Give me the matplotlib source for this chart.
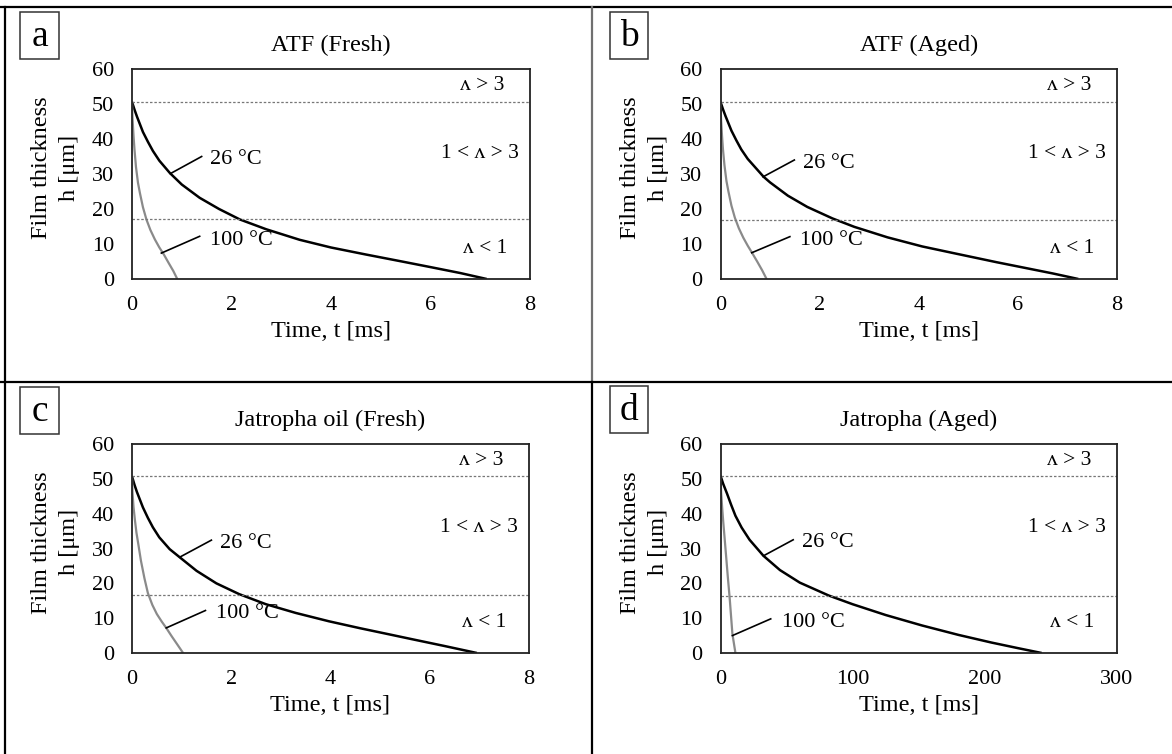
import matplotlib
matplotlib.use("Agg")
import matplotlib.pyplot as plt
from matplotlib.lines import Line2D
from matplotlib.patches import Rectangle

plt.rcParams["font.family"] = ["Liberation Serif", "DejaVu Serif"]

W, H = 1172, 754

# panel texts
letters = ["a", "b", "c", "d"]
titles = ["ATF (Fresh)", "ATF (Aged)", "Jatropha oil (Fresh)", "Jatropha (Aged)"]
x_max = [8, 8, 8, 300]
x_step = [2, 2, 2, 100]

# regime limits (film thickness, um)
upper_lim = [50.6, 50.6, 50.7, 50.9]
lower_lim = [17.1, 17.0, 16.7, 16.3]

# 26 C curves
t26_a = [0, 0.05, 0.1, 0.22, 0.32, 0.42, 0.55, 0.76, 1.0, 1.36, 1.75, 2.17, 2.7, 3.37, 4.0, 4.7, 5.39, 6.0, 6.6, 7.13]
h26_a = [50.6, 48.4, 46.4, 42.0, 39.2, 36.6, 33.8, 30.3, 27.0, 23.2, 20.0, 17.0, 14.2, 11.2, 9.0, 7.0, 5.1, 3.4, 1.7, 0]
t26_b = [0, 0.05, 0.1, 0.22, 0.32, 0.42, 0.55, 0.87, 1.0, 1.36, 1.75, 2.26, 2.7, 3.37, 4.07, 4.7, 5.57, 6.1, 6.7, 7.22]
h26_b = [50.6, 48.5, 46.6, 42.4, 39.6, 37.0, 34.3, 29.2, 27.6, 23.8, 20.6, 17.3, 14.9, 11.9, 9.3, 7.4, 4.8, 3.3, 1.6, 0]
t26_c = [0, 0.05, 0.1, 0.22, 0.32, 0.42, 0.55, 0.76, 0.96, 1.3, 1.7, 2.16, 2.7, 3.3, 3.97, 4.6, 5.2, 5.63, 6.3, 6.95]
h26_c = [50.7, 48.3, 46.2, 41.8, 38.8, 36.1, 33.2, 29.8, 27.5, 23.6, 20.0, 16.9, 14.0, 11.5, 9.1, 7.1, 5.3, 4.0, 2.0, 0]
t26_d = [0, 2, 5, 8, 11.3, 16, 22, 32.5, 45, 60, 81.9, 100, 125, 152.5, 180, 205, 225, 243]
h26_d = [50.9, 48.6, 45.7, 42.6, 39.4, 36.0, 32.5, 27.9, 23.8, 20.2, 16.5, 14.0, 10.9, 7.9, 5.2, 3.0, 1.4, 0]

# 100 C curves
t100_a = [0, 0.01, 0.03, 0.05, 0.08, 0.12, 0.16, 0.22, 0.29, 0.37, 0.46, 0.55, 0.64, 0.74, 0.83, 0.91]
h100_a = [50.6, 46, 41, 37, 32, 27.5, 24.5, 20.5, 17, 14, 11.3, 9, 7, 4.5, 2.3, 0]
t100_b = [0, 0.01, 0.03, 0.05, 0.08, 0.12, 0.16, 0.22, 0.29, 0.37, 0.46, 0.55, 0.64, 0.74, 0.84, 0.93]
h100_b = [50.6, 46, 41, 37, 32.5, 28, 25, 21, 17.5, 14.5, 11.8, 9.5, 7.4, 5.0, 2.5, 0]
t100_c = [0, 0.01, 0.03, 0.06, 0.09, 0.13, 0.18, 0.25, 0.32, 0.41, 0.5, 0.6, 0.69, 0.8, 0.92, 1.03]
h100_c = [50.7, 46, 42, 38, 34.5, 31, 26.5, 21.5, 17.2, 13.8, 11.2, 9.0, 7.2, 4.8, 2.3, 0]
t100_d = [0, 0.5, 1.2, 2.0, 3.0, 4.2, 5.5, 7.0, 9.0, 11.3]
h100_d = [50.9, 46, 42, 38, 33.5, 28, 22, 15.5, 5.5, 0]

t26 = [t26_a, t26_b, t26_c, t26_d]
h26 = [h26_a, h26_b, h26_c, h26_d]
t100 = [t100_a, t100_b, t100_c, t100_d]
h100 = [h100_a, h100_b, h100_c, h100_d]

# leader lines (curve point -> label end) and label anchor
lead26 = [((0.77, 30.1), (1.40, 35.0), (1.56, 34.1)),
          ((0.86, 29.2), (1.49, 34.0), (1.66, 33.0)),
          ((0.96, 27.5), (1.60, 32.4), (1.77, 31.3)),
          ((32.5, 27.9), (55, 32.5), (62, 31.8))]
lead100 = [((0.59, 7.4), (1.36, 12.2), (1.56, 11.0)),
           ((0.63, 7.5), (1.40, 12.1), (1.60, 11.0)),
           ((0.69, 7.2), (1.48, 12.2), (1.70, 11.2)),
           ((9.0, 5.0), (38, 9.8), (46.6, 8.8))]

# axes boxes in pixels: left, top, right, bottom
boxes = [(132, 69, 530, 279), (720.5, 69, 1117, 279),
         (132, 444, 529, 653), (720.5, 444, 1117, 653)]
letter_boxes = [(20, 12, 59, 59), (610, 12, 648, 59),
                (20, 387, 59, 434), (610, 386, 648, 433)]

fig = plt.figure(figsize=(W / 100, H / 100), dpi=100)

grey = "#8a8a8a"
for i in range(4):
    l, t, r, b = boxes[i]
    ax = fig.add_axes([l / W, 1 - b / H, (r - l) / W, (b - t) / H])
    ax.plot(t26[i], h26[i], color="black", lw=1.8, solid_capstyle="butt")
    ax.plot(t100[i], h100[i], color=grey, lw=1.6, solid_capstyle="butt")
    ax.axhline(upper_lim[i], color="#777777", lw=0.9, ls=(0, (2, 1.5)))
    ax.axhline(lower_lim[i], color="#777777", lw=0.9, ls=(0, (2, 1.5)))

    for lead, lab in ((lead26[i], "26 °C"), (lead100[i], "100 °C")):
        p0, p1, pt = lead
        ax.plot([p0[0], p1[0]], [p0[1], p1[1]], color="black", lw=1.2)
        ax.text(pt[0], pt[1], lab, fontsize=16, ha="left", va="center")

    ax.text(0.88, 0.923, "ʌ > 3", transform=ax.transAxes, fontsize=15.5, ha="center", va="center")
    ax.text(0.875, 0.60, "1 < ʌ > 3", transform=ax.transAxes, fontsize=15.5, ha="center", va="center")
    ax.text(0.887, 0.147, "ʌ < 1", transform=ax.transAxes, fontsize=15.5, ha="center", va="center")

    ax.set_xlim(0, x_max[i])
    ax.set_ylim(0, 60)
    ax.set_xticks(range(0, x_max[i] + 1, x_step[i]))
    ax.set_yticks(range(0, 61, 10))
    ax.tick_params(length=0, labelsize=16)
    ax.tick_params(axis="y", pad=13)
    ax.tick_params(axis="x", pad=12)
    for s in ax.spines.values():
        s.set_linewidth(1.3)
        s.set_color("#222222")

    ax.set_xlabel("Time, t [ms]", fontsize=17.5)
    ax.xaxis.set_label_coords(0.5, -0.2)
    ax.set_ylabel("Film thickness\nh [μm]", fontsize=17.5, linespacing=1.45)
    ax.yaxis.set_label_coords(-0.13, 0.53)
    ax.set_title(titles[i], fontsize=17.5, y=1.114, va="center", pad=0)

    lx0, ly0, lx1, ly1 = letter_boxes[i]
    fig.patches.append(Rectangle((lx0 / W, 1 - ly1 / H), (lx1 - lx0) / W, (ly1 - ly0) / H,
                                 transform=fig.transFigure, fill=False,
                                 edgecolor="#333333", lw=1.1))
    fig.text((lx0 + lx1) / 2 / W, 1 - ((ly0 + ly1) / 2 + 1) / H, letters[i],
             fontsize=27, ha="center", va="center")

# table borders around the panels
def fline(x0, y0, x1, y1, c="black"):
    fig.lines.append(Line2D([x0 / W, x1 / W], [1 - y0 / H, 1 - y1 / H],
                            transform=fig.transFigure, color=c, lw=1.6))

fline(0, 6.5, W, 6.5)
fline(4.5, 6.5, 4.5, H)
fline(592, 6.5, 592, 382, "#707070")
fline(592, 382, 592, H)
fline(0, 382, W, 382)

fig.savefig("out.png", dpi=100)
